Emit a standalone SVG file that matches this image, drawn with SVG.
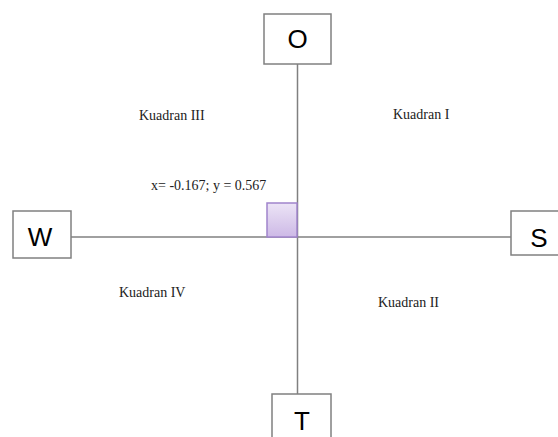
<svg xmlns="http://www.w3.org/2000/svg" width="558" height="437" viewBox="0 0 558 437">
<style>
.box{fill:#fff;stroke:#808080;stroke-width:1.5}
.big{font-family:"Liberation Sans",Arial,sans-serif;font-size:26px;fill:#000;text-anchor:middle}
.lbl{font-family:"Liberation Serif","Times New Roman",serif;font-size:14px;fill:#222}
.ax{stroke:#808080;stroke-width:1.5;fill:none}
</style>
<defs>
<linearGradient id="pg" x1="0" y1="0" x2="0" y2="1">
<stop offset="0" stop-color="#ece4f6"/>
<stop offset="1" stop-color="#cdb9e6"/>
</linearGradient>
</defs>
<g id="connectors">
<line class="ax" x1="297.5" y1="64" x2="297.5" y2="394"/>
<line class="ax" x1="71" y1="237" x2="511" y2="237"/>
</g>
<g id="node-O"><rect class="box" x="264" y="14" width="67" height="50"/><text class="big" x="297.5" y="48">O</text></g>
<g id="node-W"><rect class="box" x="13" y="211" width="58" height="47"/><text class="big" x="40" y="246">W</text></g>
<g id="node-S"><rect class="box" x="511" y="211" width="52" height="44"/><text class="big" x="539" y="247">S</text></g>
<g id="node-T"><rect class="box" x="272" y="394" width="59" height="50"/><text class="big" x="302" y="430">T</text></g>
<g id="point"><rect x="267" y="203" width="30" height="34" fill="url(#pg)" stroke="#a084cc" stroke-width="1.5"/></g>
<g id="labels">
<text class="lbl" x="139" y="120">Kuadran III</text>
<text class="lbl" x="393" y="119">Kuadran I</text>
<text class="lbl" x="119" y="297">Kuadran IV</text>
<text class="lbl" x="378" y="307">Kuadran II</text>
<text class="lbl" x="151" y="190">x= -0.167; y = 0.567</text>
</g>
</svg>
